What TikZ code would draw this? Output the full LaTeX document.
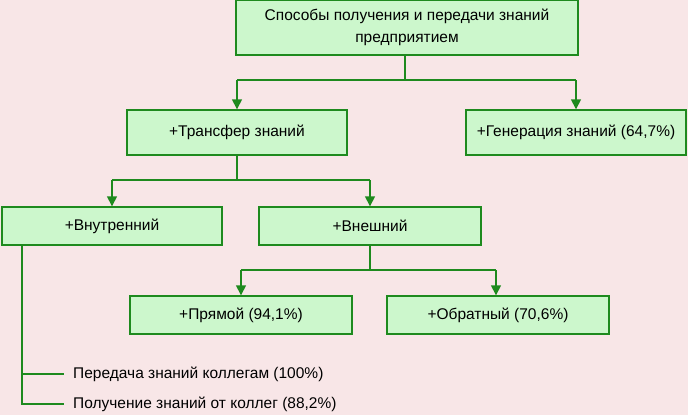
\documentclass[tikz,border=0pt]{standalone}
\usepackage{fontspec}
\setmainfont{Liberation Sans}
\usetikzlibrary{arrows.meta}
\definecolor{bg}{HTML}{F8E6E7}
\definecolor{boxfill}{HTML}{CCF7CC}
\definecolor{gline}{HTML}{1E8A1E}
\begin{document}
\begin{tikzpicture}[x=1pt,y=-1pt,
  box/.style={draw=gline,fill=boxfill,line width=1.4pt,inner sep=0pt,font=\fontsize{15.5}{23}\selectfont},
  conn/.style={draw=gline,line width=1.5pt},
  arr/.style={conn,-{Triangle[length=10pt,width=10pt]}},
  lbl/.style={anchor=west,inner sep=0pt,font=\fontsize{15.5}{18}\selectfont}]
\fill[bg] (0,0) rectangle (688,415);
\useasboundingbox (0,0) rectangle (688,415);
\node[box,minimum width=342pt,minimum height=55pt,align=center] (top) at (407,27.5) {Способы получения и передачи знаний\\[-1pt]предприятием};
\node[box,minimum width=220pt,minimum height=45pt] (tr) at (237,132.5) {+Трансфер знаний};
\node[box,minimum width=220pt,minimum height=45pt] (gen) at (576,132.5) {+Генерация знаний (64,7\%)};
\node[box,minimum width=220pt,minimum height=38pt] (vn) at (112,226) {+Внутренний};
\node[box,minimum width=222pt,minimum height=38pt] (ex) at (370,226) {+Внешний};
\node[box,minimum width=222pt,minimum height=38pt] (pr) at (241,315) {+Прямой (94,1\%)};
\node[box,minimum width=222pt,minimum height=38pt] (ob) at (498,315) {+Обратный (70,6\%)};
\node[lbl] (l1) at (73,374) {Передача знаний коллегам (100\%)};
\node[lbl] (l2) at (73,404) {Получение знаний от коллег (88,2\%)};
% connectors
\coordinate (j1) at (405,80);
\draw[conn] (top.south -| j1) -- (j1);
\draw[conn] (j1 -| tr.north) -- (j1 -| gen.north);
\draw[arr] (j1 -| tr.north) -- (tr.north);
\draw[arr] (j1 -| gen.north) -- (gen.north);
\coordinate (j2) at (237,180);
\draw[conn] (tr.south) -- (j2);
\draw[conn] (j2 -| vn.north) -- (j2 -| ex.north);
\draw[arr] (j2 -| vn.north) -- (vn.north);
\draw[arr] (j2 -| ex.north) -- (ex.north);
\coordinate (j3) at (370,270);
\coordinate (obt) at ([xshift=-2pt]ob.north);
\draw[conn] (j3 -| pr.north) -- (j3 -| obt);
\draw[conn] (ex.south) -- (j3);
\draw[arr] (j3 -| pr.north) -- (pr.north);
\draw[arr] (j3 -| obt) -- (obt);
\coordinate (v) at (22,245);
\draw[conn] (v) |- ([xshift=-9pt]l2.west);
\draw[conn] (v |- l1) -- ([xshift=-9pt]l1.west);
\end{tikzpicture}
\end{document}
